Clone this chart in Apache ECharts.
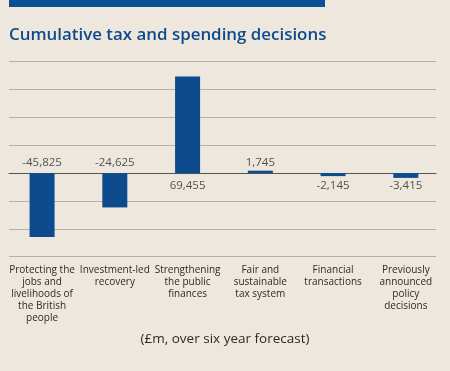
<!DOCTYPE html>
<html>
<head>
<meta charset="utf-8">
<script src="https://cdn.jsdelivr.net/npm/echarts@6/dist/echarts.min.js"></script>
<style>
html,body{margin:0;padding:0;background:#ede7dd;}
#c{width:450px;height:371px;}
</style>
</head>
<body>
<div id="c"></div>
<script>
var categories = [
  'Protecting the\njobs and\nlivelihoods of\nthe British\npeople',
  'Investment-led\nrecovery',
  'Strengthening\nthe public\nfinances',
  'Fair and\nsustainable\ntax system',
  'Financial\ntransactions',
  'Previously\nannounced\npolicy\ndecisions'
];
var values = [-45825, -24625, 69455, 1745, -2145, -3415];
var labelSide = ['top', 'top', 'bottom', 'top', 'bottom', 'bottom'];
var yMin = -60000, yMax = 80000, yStep = 20000;

var font = '"Open Sans", "Noto Sans", sans-serif';
var chart = echarts.init(document.getElementById('c'), null, {renderer: 'canvas'});

chart.setOption({
  backgroundColor: '#ede7dd',
  animation: false,
  title: [
    {text: 'Cumulative tax and spending decisions', left: 9, top: 26.5, padding: 0,
     textStyle: {fontFamily: font, fontSize: 16.9, fontWeight: 600, color: '#0d4b8e'}},
    {text: '(£m, over six year forecast)', left: 'center', top: 332, padding: 0,
     textStyle: {fontFamily: font, fontSize: 13.5, fontWeight: 'normal', color: '#2b2b2b'}}
  ],
  graphic: [
    {type: 'rect', shape: {x: 9, y: 0, width: 316, height: 7}, style: {fill: '#0b4f95'}}
  ],
  grid: [
    {left: 9, right: 14, top: 61.7, bottom: 114.3},
    {left: 5.7, right: 7.8, top: 61.7, bottom: 114.3}
  ],
  xAxis: [
    {type: 'category', gridIndex: 0, data: categories.map(function(){return '';}),
     axisLine: {onZero: true, lineStyle: {color: '#555', width: 1}},
     axisTick: {show: false}, axisLabel: {show: false}, splitLine: {show: false}},
    {type: 'category', gridIndex: 1, data: categories, position: 'bottom',
     axisLine: {show: false, onZero: false}, axisTick: {show: false},
     axisLabel: {interval: 0, margin: 7, fontFamily: font, fontSize: 10, lineHeight: 12, color: '#2b2b2b', align: 'center'}}
  ],
  yAxis: [
    {type: 'value', gridIndex: 0, min: yMin, max: yMax, interval: yStep,
     axisLine: {show: false}, axisTick: {show: false}, axisLabel: {show: false},
     splitLine: {lineStyle: {color: '#b5afa5', width: 1}}},
    {type: 'value', gridIndex: 1, min: yMin, max: yMax, interval: yStep,
     axisLine: {show: false}, axisTick: {show: false}, axisLabel: {show: false},
     splitLine: {show: false}}
  ],
  series: [
    {type: 'bar', xAxisIndex: 1, yAxisIndex: 1, data: values, barWidth: 25,
     itemStyle: {color: '#0d4b8e'}, z: 3},
    {type: 'scatter', xAxisIndex: 1, yAxisIndex: 1, symbolSize: 0, z: 4,
     data: values.map(function(v, i){
       return {value: 0, label: {position: labelSide[i], distance: labelSide[i] === 'top' ? 4 : 7,
               formatter: v.toLocaleString('en-US')}};
     }),
     label: {show: true, fontFamily: font, fontSize: 11.5, color: '#2b2b2b'}}
  ]
});
</script>
</body>
</html>
